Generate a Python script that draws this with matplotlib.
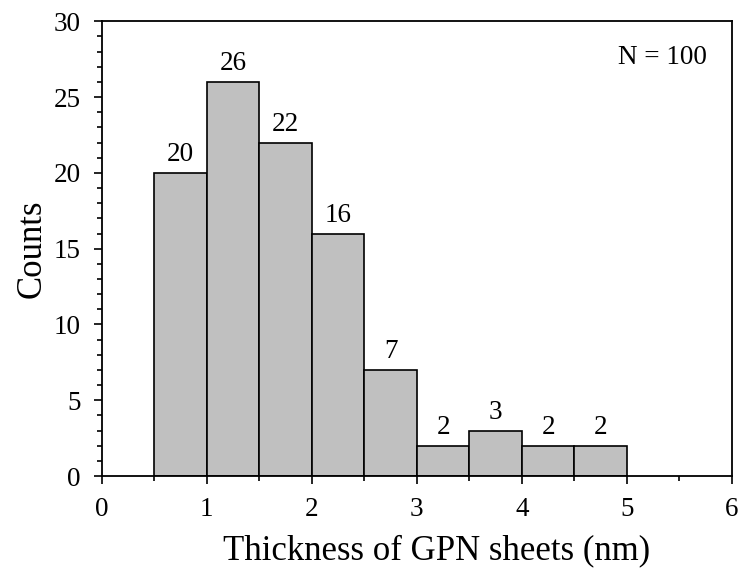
import matplotlib.pyplot as plt
from matplotlib.ticker import MultipleLocator

plt.rcParams['font.family'] = ['Liberation Serif', 'DejaVu Serif']

# thickness histogram, bin left edges in nm and counts per bin
bin_edges = [0.5, 1.0, 1.5, 2.0, 2.5, 3.0, 3.5, 4.0, 4.5]
counts = [20, 26, 22, 16, 7, 2, 3, 2, 2]
bin_width = 0.5

fig = plt.figure(figsize=(7.43, 5.75), dpi=100)
ax = fig.add_axes([0.137, 0.172, 0.848, 0.791])

bars = ax.bar(bin_edges, counts, width=bin_width, align='edge',
              color='#c0c0c0', edgecolor='black', linewidth=1.2)
for x, c in zip(bin_edges, counts):
    ax.annotate(str(c), (x + bin_width / 2, c), xytext=(0, 4), textcoords='offset points',
                ha='center', va='bottom', fontsize=19.5)

ax.set_xlim(0, 6)
ax.set_ylim(0, 30)
ax.xaxis.set_major_locator(MultipleLocator(1))
ax.xaxis.set_minor_locator(MultipleLocator(0.5))
ax.yaxis.set_major_locator(MultipleLocator(5))
ax.yaxis.set_minor_locator(MultipleLocator(1))
ax.tick_params(which='both', direction='out', width=1.2, labelsize=19.5)
ax.tick_params(which='major', length=6)
ax.tick_params(which='minor', length=3.5)
ax.tick_params(axis='x', pad=9)
ax.tick_params(axis='y', pad=9)
for s in ax.spines.values():
    s.set_linewidth(1.3)

ax.text(0.96, 0.92, 'N = 100', transform=ax.transAxes, ha='right', va='center', fontsize=19.5)
ax.set_xlabel('Thickness of GPN sheets (nm)', fontsize=25, labelpad=9)
ax.xaxis.label.set_x(0.532)
ax.set_ylabel('Counts', fontsize=25, labelpad=4)

fig.savefig('out.png', dpi=100)
